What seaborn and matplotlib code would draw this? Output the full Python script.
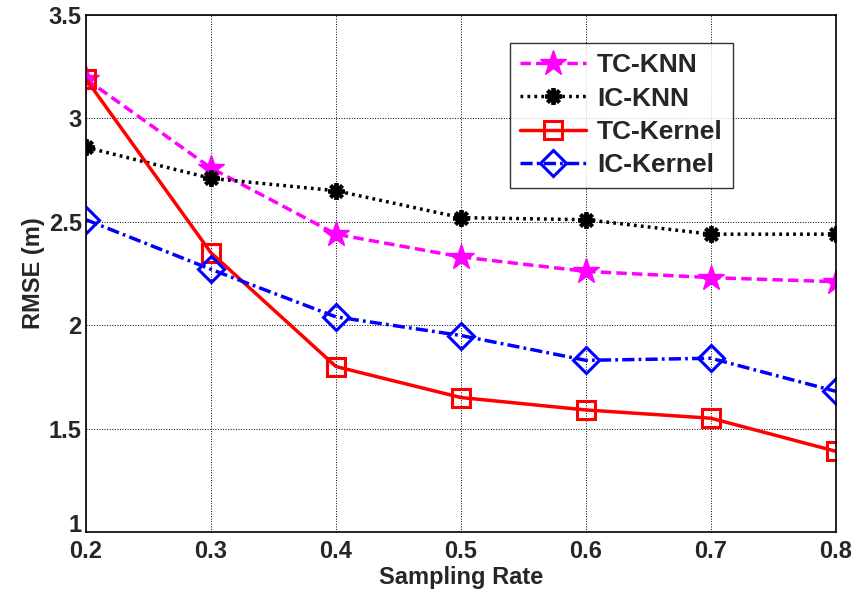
import pandas as pd
import matplotlib
matplotlib.use("Agg")
import matplotlib.pyplot as plt
import seaborn as sns

# Data
sampling_rate = [0.2, 0.3, 0.4, 0.5, 0.6, 0.7, 0.8]
tc_knn = [3.19, 2.76, 2.44, 2.33, 2.26, 2.23, 2.21]
ic_knn = [2.86, 2.71, 2.65, 2.52, 2.51, 2.44, 2.44]
tc_kernel = [3.19, 2.35, 1.80, 1.65, 1.59, 1.55, 1.39]
ic_kernel = [2.51, 2.27, 2.04, 1.95, 1.83, 1.84, 1.68]

sns.set_style("white")
plt.rcParams['font.family'] = ['Liberation Sans', 'DejaVu Sans']
plt.rcParams['font.weight'] = 'bold'

fig = plt.figure(figsize=(8.53, 5.99), dpi=100)
ax = fig.add_axes([0.1008, 0.1119, 0.8792, 0.8631])

styles = [
    ("TC-KNN", tc_knn, "#ff00ff", (0, (3, 1.5)), "*", 19, "#ff00ff", 1.0),
    ("IC-KNN", ic_knn, "black", (0, (0.8, 1.2)), (8, 2, 0), 12, "black", 2.8),
    ("TC-Kernel", tc_kernel, "red", "-", "s", 13, "none", 2.2),
    ("IC-Kernel", ic_kernel, "blue", (0, (3.5, 1.2, 0.8, 1.2)), "D", 13, "none", 2.2),
]

for name, vals, col, ls, mk, ms, mfc, mew in styles:
    df = pd.DataFrame({"x": sampling_rate, "y": vals})
    sns.lineplot(data=df, x="x", y="y", ax=ax, color=col, linestyle=ls, lw=2.5,
                 marker=mk, markersize=ms, markerfacecolor=mfc,
                 markeredgecolor=col, markeredgewidth=mew, label=name)

ax.set_xlim(0.2, 0.8)
ax.set_ylim(1, 3.5)
ax.set_xticks(sampling_rate)
ax.set_yticks([1, 1.5, 2, 2.5, 3, 3.5])
ax.set_xticklabels(["0.2", "0.3", "0.4", "0.5", "0.6", "0.7", "0.8"])
ax.set_yticklabels(["1", "1.5", "2", "2.5", "3", "3.5"])
ax.tick_params(axis="x", labelsize=17, direction="in", length=5, width=1, pad=6)
ax.tick_params(axis="y", labelsize=17, direction="in", length=5, width=1, pad=3)
for lab in ax.get_xticklabels() + ax.get_yticklabels():
    lab.set_fontweight("bold")
# the bottom y label sits just above the x labels, as in the reference
ax.get_yticklabels()[0].set_verticalalignment("baseline")

ax.grid(True, color="black", linestyle=":", linewidth=0.7)
for sp in ax.spines.values():
    sp.set_color("black")
    sp.set_linewidth(1.2)

ax.set_xlabel("Sampling Rate", fontsize=17, fontweight="bold", labelpad=2)
ax.set_ylabel("RMSE (m)", fontsize=17, fontweight="bold", labelpad=3)

leg = ax.legend(loc="upper left", bbox_to_anchor=(0.5653, 0.946), fontsize=19,
                frameon=True, fancybox=False, edgecolor="black", handlelength=2.5,
                borderpad=0.4, labelspacing=0.35, handletextpad=0.4, borderaxespad=0)
leg.get_frame().set_linewidth(1.0)
for t in leg.get_texts():
    t.set_fontweight("bold")

fig.savefig("out.png", dpi=100)
